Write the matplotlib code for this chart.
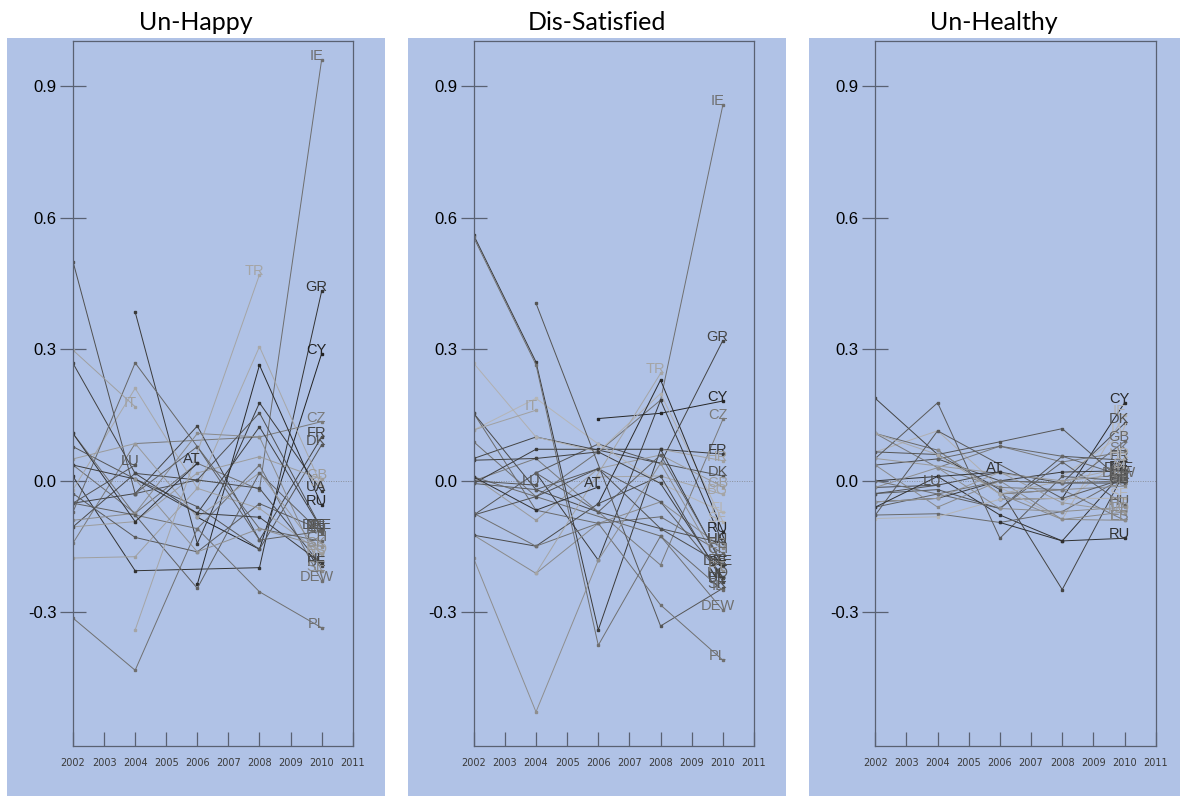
import numpy as np
import matplotlib.pyplot as plt
from matplotlib.patches import Rectangle

nan = np.nan
years = [2002, 2004, 2006, 2008, 2010]
year_ticks = list(range(2002, 2012))
y_ticks = [-0.3, 0.0, 0.3, 0.6, 0.9]
y_tick_labels = ['-0.3', '0.0', '0.3', '0.6', '0.9']
titles = ['Un-Happy', 'Dis-Satisfied', 'Un-Healthy']

# Un-Happy: one row per country, values at 2002..2010 (nan = not surveyed)
happy_codes = ['IE', 'GR', 'CY', 'CZ', 'FR', 'DK', 'GB', 'SI', 'UA', 'RU',
               'DE', 'DEE', 'DEW', 'FI', 'CH', 'NO', 'ES', 'NL', 'BE', 'SE',
               'PL', 'HU', 'SK', 'EE', 'TR', 'IT', 'LU', 'AT']
happy_values = [
    [0.036, -0.074, 0.040, -0.020, 0.960],
    [0.010, -0.205, nan, -0.198, 0.432],
    [nan, nan, -0.083, -0.156, 0.290],
    [-0.142, 0.085, nan, 0.100, 0.135],
    [-0.051, -0.029, 0.125, -0.135, 0.100],
    [0.078, 0.004, -0.059, -0.156, 0.082],
    [-0.105, -0.093, 0.018, 0.055, 0.004],
    [-0.020, 0.211, -0.017, 0.306, -0.012],
    [nan, 0.385, -0.143, 0.178, -0.024],
    [nan, nan, -0.236, 0.264, -0.055],
    [0.268, 0.017, -0.074, 0.123, -0.110],
    [0.500, -0.029, 0.002, 0.155, -0.110],
    [0.108, -0.078, -0.109, 0.036, -0.228],
    [-0.029, -0.129, -0.162, -0.052, -0.112],
    [-0.071, 0.269, 0.078, -0.109, -0.138],
    [-0.176, -0.173, -0.017, -0.063, -0.165],
    [0.050, 0.085, -0.083, 0.018, -0.170],
    [0.036, 0.004, -0.074, -0.083, -0.188],
    [-0.105, 0.017, 0.002, -0.017, -0.194],
    [-0.090, -0.074, 0.108, 0.100, -0.205],
    [-0.313, -0.432, -0.109, -0.253, -0.335],
    [-0.051, -0.078, -0.245, 0.018, -0.120],
    [nan, 0.004, -0.162, -0.109, -0.150],
    [nan, -0.029, 0.078, -0.135, -0.115],
    [nan, -0.340, nan, 0.470, nan],
    [0.298, 0.169, nan, nan, nan],
    [-0.051, 0.036, nan, nan, nan],
    [0.108, -0.093, 0.040, nan, nan],
]
happy_greys = ['#6e6e6e', '#333333', '#222222', '#7a7a7a', '#444444', '#555555',
               '#9c9c9c', '#a8a8a8', '#3a3a3a', '#2a2a2a', '#404040', '#505050',
               '#707070', '#5a5a5a', '#666666', '#a0a0a0', '#9a9a9a', '#3c3c3c',
               '#4a4a4a', '#8a8a8a', '#707070', '#606060', '#909090', '#606060',
               '#a5a5a5', '#a0a0a0', '#555555', '#333333']

# Dis-Satisfied
satisfied_codes = ['IE', 'GR', 'CY', 'CZ', 'FR', 'HR', 'DK', 'GB', 'BG', 'FI',
                   'SE', 'RU', 'UA', 'ES', 'CH', 'DEE', 'DE', 'DEW', 'NO', 'NL',
                   'BE', 'SK', 'IL', 'PL', 'PT', 'HU', 'EE', 'TR', 'IT', 'LU', 'AT']
satisfied_values = [
    [0.089, -0.036, 0.066, 0.184, 0.857],
    [0.051, 0.100, nan, 0.040, 0.320],
    [nan, nan, 0.142, 0.154, 0.182],
    [0.000, 0.051, nan, -0.192, 0.140],
    [-0.006, 0.072, 0.072, 0.072, 0.061],
    [nan, nan, nan, 0.072, 0.046],
    [-0.078, 0.018, 0.084, 0.040, 0.011],
    [0.009, -0.090, 0.028, 0.059, -0.014],
    [nan, nan, 0.009, 0.011, -0.031],
    [0.116, 0.188, 0.084, -0.006, -0.071],
    [0.268, 0.100, 0.066, 0.199, -0.093],
    [nan, nan, -0.052, 0.230, -0.116],
    [nan, 0.018, -0.181, 0.184, -0.142],
    [-0.124, -0.211, -0.097, -0.048, -0.153],
    [0.154, -0.067, -0.097, -0.082, -0.165],
    [0.154, -0.020, -0.071, -0.109, -0.192],
    [0.560, 0.271, -0.340, 0.072, -0.195],
    [0.555, 0.265, -0.375, -0.126, -0.295],
    [-0.006, -0.020, 0.028, -0.048, -0.219],
    [0.047, 0.051, 0.066, -0.006, -0.222],
    [-0.124, -0.149, -0.052, 0.011, -0.230],
    [nan, 0.405, nan, -0.331, -0.245],
    [0.009, nan, nan, -0.126, -0.250],
    [-0.074, -0.149, -0.097, -0.283, -0.409],
    [-0.177, -0.527, -0.181, 0.040, -0.205],
    [-0.078, -0.036, 0.028, -0.109, -0.142],
    [nan, 0.018, -0.071, 0.059, -0.190],
    [nan, -0.211, nan, 0.245, nan],
    [0.116, 0.161, nan, nan, nan],
    [0.000, -0.010, nan, nan, nan],
    [0.009, -0.067, -0.014, nan, nan],
]
satisfied_greys = ['#707070', '#444444', '#262626', '#7a7a7a', '#3a3a3a', '#a0a0a0',
                   '#555555', '#9a9a9a', '#a5a5a5', '#b5b5b5', '#b0b0b0', '#2a2a2a',
                   '#3a3a3a', '#8a8a8a', '#6a6a6a', '#4a4a4a', '#3a3a3a', '#707070',
                   '#5a5a5a', '#404040', '#4a4a4a', '#555555', '#6a6a6a', '#707070',
                   '#8e8e8e', '#505050', '#606060', '#a5a5a5', '#a0a0a0', '#555555',
                   '#333333']

# Un-Healthy
healthy_codes = ['CY', 'IE', 'DK', 'LV', 'GB', 'SK', 'FR', 'HR', 'DE', 'NL',
                 'DEE', 'DEW', 'CZ', 'BE', 'BG', 'SE', 'HU', 'PL', 'NO', 'ES',
                 'EE', 'RU', 'CH', 'UA', 'SI', 'PT', 'FI', 'IL', 'GR',
                 'LU', 'AT']
healthy_values = [
    [nan, nan, -0.042, -0.040, 0.178],
    [0.066, 0.114, -0.015, -0.088, 0.150],
    [0.036, 0.050, 0.000, -0.005, 0.131],
    [nan, nan, nan, 0.010, 0.109],
    [0.108, 0.070, -0.030, -0.020, 0.090],
    [nan, 0.030, 0.079, 0.043, 0.066],
    [-0.029, -0.020, -0.063, 0.056, 0.047],
    [nan, nan, nan, -0.050, 0.051],
    [0.000, 0.010, -0.078, -0.137, 0.023],
    [-0.048, -0.040, 0.000, 0.020, 0.023],
    [0.188, 0.060, -0.020, -0.248, 0.020],
    [-0.078, -0.075, -0.095, -0.070, 0.008],
    [0.051, 0.178, -0.131, 0.010, 0.000],
    [-0.015, -0.010, 0.020, -0.005, -0.005],
    [nan, nan, -0.030, -0.020, -0.012],
    [-0.086, -0.082, -0.042, -0.040, -0.040],
    [-0.060, -0.030, -0.063, 0.043, -0.055],
    [0.036, -0.060, 0.000, -0.088, -0.071],
    [-0.048, -0.040, 0.020, -0.050, -0.071],
    [0.108, 0.030, -0.015, -0.020, -0.090],
    [nan, 0.070, -0.030, -0.088, -0.090],
    [nan, nan, -0.095, -0.137, -0.131],
    [0.066, 0.060, 0.089, 0.119, -0.005],
    [nan, 0.050, 0.079, 0.056, 0.010],
    [0.108, 0.060, -0.030, 0.000, 0.030],
    [-0.015, 0.030, -0.063, -0.070, -0.060],
    [0.000, -0.030, 0.000, -0.005, 0.000],
    [0.051, nan, nan, 0.000, 0.015],
    [-0.078, 0.114, nan, -0.040, 0.005],
    [-0.029, -0.010, nan, nan, nan],
    [-0.060, 0.010, 0.020, nan, nan],
]
healthy_greys = ['#2a2a2a', '#b0b0b0', '#505050', '#b8b8b8', '#6a6a6a', '#7a7a7a',
                 '#555555', '#b0b0b0', '#333333', '#3a3a3a', '#444444', '#6a6a6a',
                 '#5a5a5a', '#4a4a4a', '#8a8a8a', '#b5b5b5', '#606060', '#8a8a8a',
                 '#9a9a9a', '#7a7a7a', '#8a8a8a', '#303030', '#555555', '#666666',
                 '#a8a8a8', '#8e8e8e', '#707070', '#9a9a9a', '#5a5a5a',
                 '#555555', '#333333']

W, H = 1183, 798
BLUE = '#b0c2e6'
FRAME = '#596172'


def fig_box(x0, y0, x1, y1):
    """Pixel box (top-left origin) -> figure fraction [left, bottom, w, h]."""
    return [x0 / W, 1 - y1 / H, (x1 - x0) / W, (y1 - y0) / H]


def draw_panel(fig, frame, backdrop, title_x, title, codes, values, greys):
    box = fig_box(*backdrop)
    fig.add_artist(Rectangle(box[:2], box[2], box[3], transform=fig.transFigure,
                             facecolor=BLUE, edgecolor='none', zorder=-1))
    fig.text(title_x / W, 1 - 29.5 / H, title, ha='center', va='baseline',
             fontsize=18, family=['Lato', 'DejaVu Sans'], color='black')

    ax = fig.add_axes(fig_box(*frame))
    ax.set_facecolor(BLUE)
    ax.set_xlim(2002, 2011)
    ax.set_ylim(-0.604, 1.003)

    ax.axhline(0, color='#8a8f9a', lw=0.7, ls=(0, (1, 1.5)), zorder=1)

    yrs = np.array(years, dtype=float)
    for code, vals, grey in zip(codes, values, greys):
        v = np.array(vals, dtype=float)
        ok = ~np.isnan(v)
        ax.plot(yrs[ok], v[ok], color=grey, lw=0.7, marker='s', ms=1.8,
                zorder=2)
        ax.text(yrs[ok][-1] - 0.17, v[ok][-1], code, ha='center', va='baseline',
                fontsize=10.5, color=grey, family=['Liberation Sans', 'DejaVu Sans'],
                zorder=3)

    for s in ax.spines.values():
        s.set_color(FRAME)
        s.set_linewidth(0.9)

    ax.set_xticks(year_ticks)
    ax.set_xticklabels([str(y) for y in year_ticks],
                       family=['Liberation Sans Narrow', 'DejaVu Sans'],
                       fontsize=7, color='#3a3a3a')
    ax.tick_params(axis='x', direction='in', length=10, width=0.9,
                   color=FRAME, pad=8.5)
    ax.set_yticks(y_ticks)
    ax.set_yticklabels(y_tick_labels, family=['Liberation Sans', 'DejaVu Sans'],
                       fontsize=12, color='black')
    ax.tick_params(axis='y', direction='inout', length=19, width=0.9,
                   color=FRAME, pad=2.5)
    return ax


def main():
    fig = plt.figure(figsize=(W / 100, H / 100), dpi=100, facecolor='white')

    frames = [(73, 41, 352.7, 745.7), (473.7, 41, 754, 745.7),
              (875.3, 41, 1155.7, 745.7)]
    backdrops = [(7, 37.5, 385, 796), (408, 38, 786, 796), (809, 38, 1180, 796)]
    title_xs = [196, 597, 994]
    panels = [(happy_codes, happy_values, happy_greys),
              (satisfied_codes, satisfied_values, satisfied_greys),
              (healthy_codes, healthy_values, healthy_greys)]

    for frame, backdrop, tx, title, (codes, vals, greys) in zip(
            frames, backdrops, title_xs, titles, panels):
        draw_panel(fig, frame, backdrop, tx, title, codes, vals, greys)

    fig.savefig('out.png', dpi=100, facecolor='white')


if __name__ == '__main__':
    main()
